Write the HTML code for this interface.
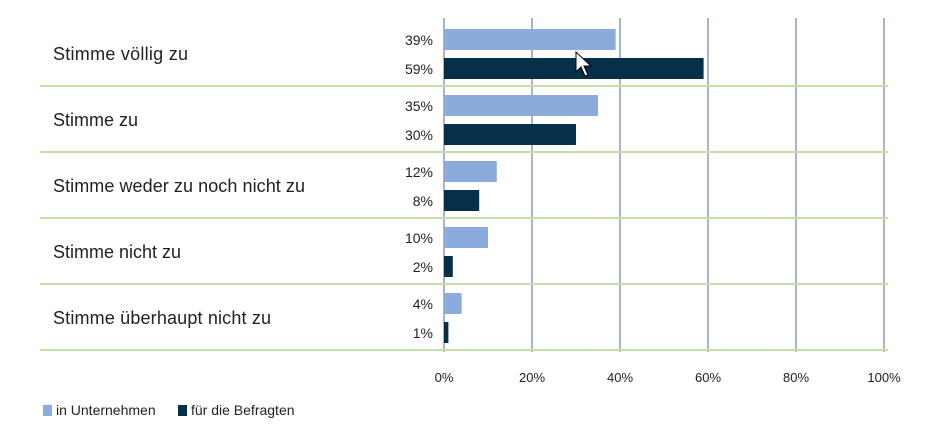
<!DOCTYPE html>
<html><head><meta charset="utf-8"><style>
body{margin:0;background:#fff;}
text{font-family:"Liberation Sans",sans-serif;fill:#222;}
</style></head><body>
<svg width="936" height="432" xmlns="http://www.w3.org/2000/svg">
<g stroke="#55649a" stroke-width="1">
<line x1="444" y1="18" x2="444" y2="352"/><line x1="532" y1="18" x2="532" y2="352"/>
<line x1="620" y1="18" x2="620" y2="352"/><line x1="708" y1="18" x2="708" y2="352"/>
<line x1="796" y1="18" x2="796" y2="352"/><line x1="884" y1="18" x2="884" y2="352"/>
</g>
<g stroke="#c6dfa6" stroke-width="2">
<line x1="40" y1="86" x2="888" y2="86"/><line x1="40" y1="152" x2="888" y2="152"/>
<line x1="40" y1="218" x2="888" y2="218"/><line x1="40" y1="284" x2="888" y2="284"/>
<line x1="40" y1="350" x2="888" y2="350"/>
</g>
<g fill="#8aabdc">
<rect x="444" y="29" width="171.6" height="21"/>
<rect x="444" y="95" width="154" height="21"/>
<rect x="444" y="161" width="52.8" height="21"/>
<rect x="444" y="227" width="44" height="21"/>
<rect x="444" y="293" width="17.6" height="21"/>
</g>
<g fill="#06304a">
<rect x="444" y="58" width="259.6" height="21"/>
<rect x="444" y="124" width="132" height="21"/>
<rect x="444" y="190" width="35.2" height="21"/>
<rect x="444" y="256" width="8.8" height="21"/>
<rect x="444" y="322" width="4.4" height="21"/>
</g>
<g font-size="18">
<text x="53" y="60" textLength="135">Stimme völlig zu</text>
<text x="53" y="126">Stimme zu</text>
<text x="53" y="192" textLength="252">Stimme weder zu noch nicht zu</text>
<text x="53" y="258">Stimme nicht zu</text>
<text x="53" y="324" textLength="218">Stimme überhaupt nicht zu</text>
</g>
<g font-size="14" text-anchor="end">
<text x="433" y="45">39%</text><text x="433" y="74">59%</text>
<text x="433" y="111">35%</text><text x="433" y="140">30%</text>
<text x="433" y="177">12%</text><text x="433" y="206">8%</text>
<text x="433" y="243">10%</text><text x="433" y="272">2%</text>
<text x="433" y="309">4%</text><text x="433" y="338">1%</text>
</g>
<g font-size="13" text-anchor="middle">
<text x="444" y="382">0%</text><text x="532" y="382">20%</text>
<text x="620" y="382">40%</text><text x="708" y="382">60%</text>
<text x="796" y="382">80%</text><text x="884" y="382">100%</text>
</g>
<rect x="43" y="405" width="9" height="11" fill="#8aabdc"/>
<text x="56" y="415" font-size="14">in Unternehmen</text>
<rect x="178" y="405" width="9" height="11" fill="#06304a"/>
<text x="191" y="415" font-size="14">für die Befragten</text>
<path d="M576 52 L576 72 L581 67 L585 76 L588 75 L584 66 L591 66 Z" fill="#fff" stroke="#000" stroke-width="1"/>
</svg>
</body></html>
